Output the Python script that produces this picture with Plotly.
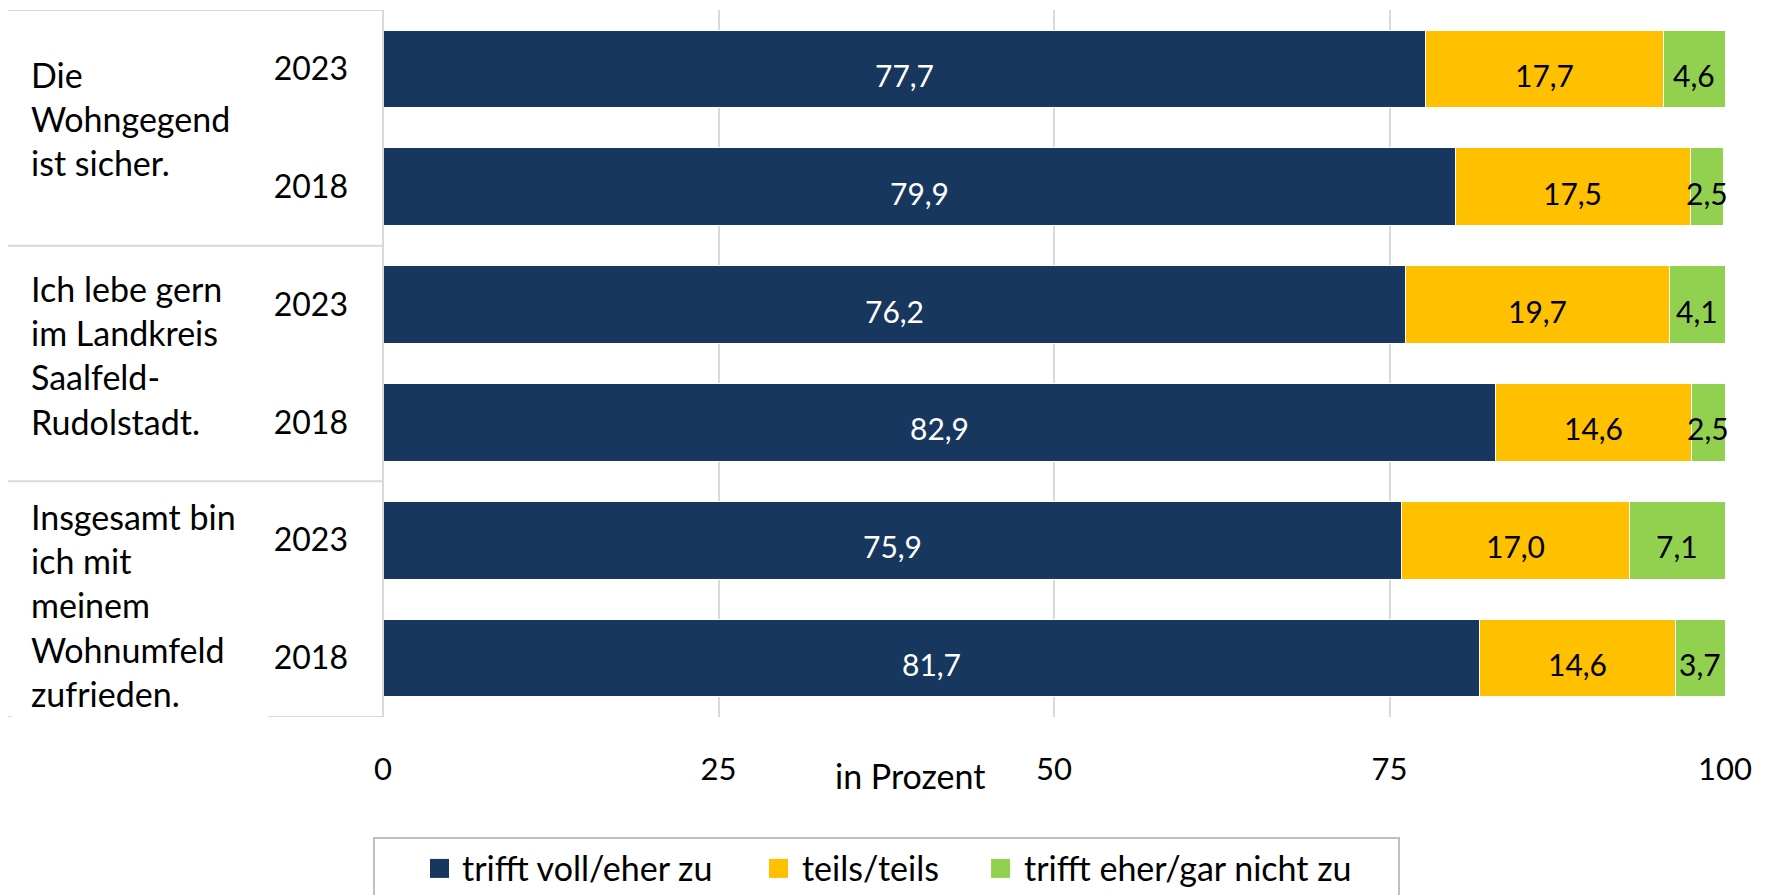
import plotly.graph_objects as go

# ---- data ----
questions = [
    "Die<br>Wohngegend<br>ist sicher.",
    "Ich lebe gern<br>im Landkreis<br>Saalfeld-<br>Rudolstadt.",
    "Insgesamt bin<br>ich mit<br>meinem<br>Wohnumfeld<br>zufrieden.",
]
years = ["2023", "2018", "2023", "2018", "2023", "2018"]
series_names = ["trifft voll/eher zu", "teils/teils", "trifft eher/gar nicht zu"]
trifft_zu = [77.7, 79.9, 76.2, 82.9, 75.9, 81.7]
teils = [17.7, 17.5, 19.7, 14.6, 17.0, 14.6]
nicht_zu = [4.6, 2.5, 4.1, 2.5, 7.1, 3.7]
x_ticks = [0, 25, 50, 75, 100]
axis_title = "in Prozent"

# ---- style ----
FONT = "Lato"
colors = ["#17375E", "#FFC000", "#92D050"]
text_colors = ["#FFFFFF", "#000000", "#000000"]
GRID = "#D9D9D9"

rows = list(range(len(years)))
series = [trifft_zu, teils, nicht_zu]

fig = go.Figure()
for name, vals, col in zip(series_names, series, colors):
    fig.add_trace(go.Bar(
        x=vals, y=rows, orientation="h", name=name,
        marker=dict(color=col, line=dict(color="#FFFFFF", width=1)),
        width=0.66, hoverinfo="skip", showlegend=False,
    ))

annotations = []
# value labels centred in each segment
base = [0.0] * len(rows)
for vals, tc in zip(series, text_colors):
    for i, v in enumerate(vals):
        annotations.append(dict(
            x=base[i] + v / 2, y=rows[i], xref="x", yref="y",
            text=f"{v:.1f}".replace(".", ","), showarrow=False,
            font=dict(family=FONT, size=30, color=tc),
            xanchor="center", yanchor="middle", yshift=-6,
        ))
        base[i] += v

# question labels
shifts = [9, 9, -6]
for k, q in enumerate(questions):
    annotations.append(dict(
        x=-0.2635, xref="paper", y=2 * k + 0.5, yref="y",
        text=q, showarrow=False, align="left",
        xanchor="left", yanchor="middle", yshift=shifts[k],
        font=dict(family=FONT, size=34, color="#000000"),
    ))

# axis title
annotations.append(dict(
    x=0.393, xref="paper", y=-0.0834, yref="paper", text=axis_title,
    showarrow=False, xanchor="center", yanchor="middle",
    font=dict(family=FONT, size=34, color="#000000"),
))

# table lines
shapes = []
line = dict(color=GRID, width=2)
for yv in [-0.5, 1.5, 3.5]:
    shapes.append(dict(type="line", xref="paper", yref="y",
                       x0=-0.2802, x1=0, y0=yv, y1=yv, line=line))
shapes.append(dict(type="line", xref="paper", yref="y",
                   x0=-0.0855, x1=0, y0=5.5, y1=5.5, line=line))
shapes.append(dict(type="line", xref="paper", yref="y",
                   x0=-0.2802, x1=-0.2765, y0=5.5, y1=5.5, line=line))
shapes.append(dict(type="line", xref="paper", yref="y",
                   x0=0, x1=0, y0=-0.5, y1=5.5, line=line))

# legend (drawn as box + swatches + labels)
shapes.append(dict(type="rect", xref="paper", yref="paper",
                   x0=-0.0067, x1=0.7571, y0=-0.1710, y1=-0.30,
                   line=dict(color="#BFBFBF", width=2), fillcolor="#FFFFFF",
                   layer="below"))
swatch_x = [0.0350, 0.2876, 0.4531]
label_x = [0.0574, 0.3107, 0.4762]
for name, col, sx, lx in zip(series_names, colors, swatch_x, label_x):
    shapes.append(dict(type="rect", xref="paper", yref="paper",
                       x0=sx, x1=sx + 0.0142, y0=-0.2007, y1=-0.2276,
                       line=dict(width=0), fillcolor=col))
    annotations.append(dict(
        x=lx, xref="paper", y=-0.2134, yref="paper", text=name,
        showarrow=False, xanchor="left", yanchor="middle",
        font=dict(family=FONT, size=34, color="#000000"),
    ))

fig.update_layout(
    width=1766, height=895,
    margin=dict(l=375, r=49, t=1.5, b=186),
    plot_bgcolor="#FFFFFF", paper_bgcolor="#FFFFFF",
    barmode="stack",
    font=dict(family=FONT, size=31, color="#000000"),
    xaxis=dict(range=[0, 100], tickvals=x_ticks, showgrid=True,
               gridcolor=GRID, gridwidth=2, zeroline=False,
               showline=False, ticks="", ticklabelstandoff=31,
               tickfont=dict(family=FONT, size=31, color="#000000"),
               fixedrange=True),
    yaxis=dict(range=[5.5, -0.5], tickvals=rows, ticktext=years,
               showgrid=False, zeroline=False, showline=False, ticks="",
               ticklabelstandoff=34,
               tickfont=dict(family=FONT, size=32, color="#000000"),
               fixedrange=True),
    annotations=annotations, shapes=shapes, showlegend=False,
)

fig.write_html("out.html")
